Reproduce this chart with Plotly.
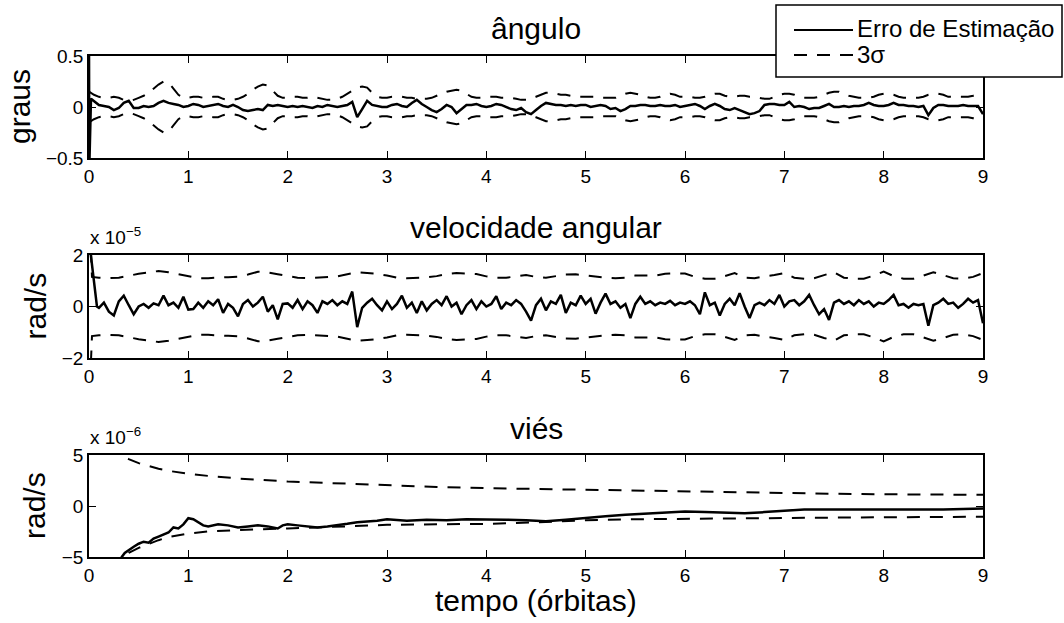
import numpy as np
import plotly.graph_objects as go

# ---------------- data ----------------
orbit_ticks = [0, 1, 2, 3, 4, 5, 6, 7, 8, 9]

# panel 1: angle (degrees); error sampled every 0.05 orbit
ang_err_start_t = [0.0, 0.003, 0.02]
ang_err_start = [0.6, -0.6, 0.08]
ang_err = [
    0.06, 0.02, 0.01, 0.00, -0.03, -0.01, 0.04, 0.06, -0.01, -0.01, 0.01, 0.00, 0.01, 0.04, 0.06, 0.04, 0.03, 0.02, 0.00,
    0.01, 0.03, 0.02, 0.00, 0.01, 0.02, 0.03, 0.01, 0.00, 0.02, 0.00, -0.03, -0.04, -0.03, -0.02, -0.03, 0.02, 0.01, 0.02, 0.01,
    0.00, 0.01, 0.00, 0.01, 0.00, -0.01, 0.01, 0.00, 0.02, 0.01, 0.00, 0.01, 0.02, 0.05, -0.10, -0.02, 0.06, 0.02, 0.01, 0.00,
    0.00, 0.02, 0.03, 0.01, 0.00, 0.04, 0.07, 0.03, 0.00, -0.03, -0.05, -0.02, 0.02, 0.00, -0.06, -0.02, 0.02, 0.02, 0.03, 0.01,
    0.00, 0.01, 0.03, 0.02, 0.00, -0.02, -0.03, -0.01, -0.05, -0.07, -0.03, 0.01, 0.04, 0.03, 0.02, 0.02, 0.01, 0.02, 0.01, 0.02,
    0.02, 0.00, 0.01, 0.02, 0.01, -0.02, -0.01, -0.04, -0.02, 0.01, 0.01, 0.02, 0.02, 0.01, 0.01, 0.02, 0.01, 0.01, 0.02, 0.00,
    0.01, 0.02, 0.03, 0.01, -0.02, 0.01, 0.03, 0.01, -0.02, -0.03, -0.01, -0.03, -0.05, -0.07, -0.06, -0.04, 0.02, 0.03, 0.03, 0.02,
    0.02, 0.05, 0.00, 0.01, 0.00, -0.02, -0.01, -0.01, 0.01, 0.03, 0.00, 0.00, 0.01, 0.00, 0.01, 0.01, 0.02, 0.04, 0.02, 0.01,
    0.01, 0.02, 0.04, 0.02, 0.02, 0.01, 0.01, 0.00, 0.01, -0.08, -0.01, 0.02, 0.02, 0.01, 0.01, 0.01, 0.02, 0.01, 0.01, 0.01,
    -0.07,
]
# 3-sigma bound of the angle, every 0.05 orbit from 0
ang_sig = [
    0.15, 0.12, 0.10, 0.09, 0.09, 0.10, 0.09, 0.07, 0.06, 0.07, 0.09, 0.11, 0.14, 0.18, 0.22, 0.25, 0.24, 0.18, 0.12, 0.09,
    0.09, 0.10, 0.10, 0.09, 0.09, 0.10, 0.10, 0.08, 0.07, 0.07, 0.08, 0.10, 0.13, 0.17, 0.20, 0.22, 0.21, 0.16, 0.11, 0.09,
    0.09, 0.10, 0.10, 0.09, 0.09, 0.10, 0.09, 0.08, 0.07, 0.07, 0.08, 0.10, 0.13, 0.16, 0.19, 0.20, 0.19, 0.14, 0.10, 0.09,
    0.09, 0.10, 0.10, 0.10, 0.09, 0.09, 0.08, 0.08, 0.08, 0.09, 0.11, 0.13, 0.15, 0.16, 0.17, 0.16, 0.13, 0.10, 0.09, 0.09,
    0.10, 0.10, 0.10, 0.09, 0.09, 0.09, 0.08, 0.07, 0.07, 0.08, 0.10, 0.12, 0.14, 0.14, 0.13, 0.12, 0.12, 0.11, 0.10, 0.10,
    0.10, 0.10, 0.10, 0.09, 0.09, 0.09, 0.09, 0.11, 0.13, 0.14, 0.13, 0.12, 0.10, 0.09, 0.09, 0.10, 0.12, 0.13, 0.12, 0.10,
    0.10, 0.10, 0.09, 0.09, 0.10, 0.12, 0.13, 0.13, 0.11, 0.10, 0.10, 0.11, 0.11, 0.10, 0.10, 0.09, 0.08, 0.08, 0.10, 0.12,
    0.13, 0.13, 0.12, 0.10, 0.09, 0.09, 0.09, 0.10, 0.12, 0.14, 0.15, 0.15, 0.13, 0.11, 0.10, 0.09, 0.09, 0.09, 0.10, 0.12,
    0.13, 0.13, 0.12, 0.10, 0.09, 0.09, 0.09, 0.09, 0.10, 0.12, 0.13, 0.13, 0.12, 0.10, 0.10, 0.10, 0.10, 0.10, 0.11, 0.13,
    0.13,
]

# panel 2: angular velocity (x 1e-5 rad/s); error every 0.05 orbit from 0.10
vel_err_start_t = [0.0, 0.02, 0.08]
vel_err_start = [2.6, 1.9, 0.0]
vel_err = [
    -0.05, 0.15, -0.20, -0.35, 0.20, 0.42, 0.05, -0.30, 0.00, 0.10, -0.05, 0.12, 0.05, 0.42, 0.05, 0.15, -0.05, 0.38,
    -0.12, -0.10, 0.15, -0.05, 0.20, 0.05, 0.28, -0.25, 0.10, -0.05, -0.38, 0.10, 0.25, 0.00, 0.15, 0.38, -0.20, 0.05, -0.50, 0.10,
    0.12, -0.05, 0.25, -0.10, 0.20, 0.05, -0.25, 0.20, 0.10, 0.25, 0.05, 0.20, 0.10, 0.58, -0.80, -0.05, 0.15, 0.30, 0.05, -0.15,
    0.20, -0.10, 0.10, 0.42, -0.05, 0.15, -0.25, 0.20, -0.15, 0.10, 0.25, 0.05, 0.40, 0.00, 0.15, -0.30, 0.05, 0.25, -0.10, 0.20,
    0.00, 0.10, 0.40, -0.10, 0.15, 0.05, 0.25, 0.10, -0.20, -0.55, 0.05, 0.30, -0.15, 0.20, 0.10, 0.45, -0.25, 0.15, 0.05, 0.42,
    0.10, 0.30, -0.28, 0.15, 0.50, 0.10, 0.20, -0.05, 0.10, -0.45, 0.10, 0.38, 0.10, 0.20, 0.05, 0.15, 0.10, 0.22, 0.05, 0.15,
    0.10, 0.20, 0.05, -0.30, 0.55, 0.05, 0.15, -0.35, 0.10, 0.30, 0.05, 0.52, 0.00, -0.45, 0.05, 0.15, 0.05, 0.25, 0.10, 0.45,
    0.00, 0.20, 0.25, 0.05, 0.20, 0.45, 0.05, -0.30, -0.10, -0.52, 0.15, 0.25, 0.10, 0.20, 0.05, 0.25, 0.10, 0.20, 0.00, 0.15,
    0.10, 0.25, 0.45, 0.05, 0.10, -0.05, 0.10, 0.05, 0.10, -0.75, 0.05, 0.15, 0.30, 0.10, 0.15, -0.05, 0.10, 0.30, 0.15, 0.25,
    -0.65,
]
# 3-sigma of angular velocity every 0.1 orbit from 0.1
vel_sig_start_t = [0.0, 0.03]
vel_sig_start = [4.0, 1.15]
vel_sig = [
    1.12, 1.10, 1.12, 1.20, 1.27, 1.32, 1.38, 1.33, 1.25, 1.17,
    1.10, 1.10, 1.13, 1.14, 1.16, 1.24, 1.35, 1.32, 1.25, 1.18,
    1.12, 1.10, 1.12, 1.15, 1.17, 1.25, 1.33, 1.30, 1.27, 1.20,
    1.12, 1.10, 1.12, 1.13, 1.18, 1.26, 1.30, 1.28, 1.26, 1.17,
    1.12, 1.12, 1.16, 1.22, 1.15, 1.12, 1.18, 1.24, 1.25, 1.20,
    1.15, 1.12, 1.10, 1.12, 1.20, 1.20, 1.20, 1.27, 1.29, 1.28,
    1.15, 1.08, 1.08, 1.18, 1.30, 1.12, 1.10, 1.17, 1.22, 1.30,
    1.12, 1.08, 1.10, 1.22, 1.33, 1.12, 1.08, 1.08, 1.20, 1.36,
    1.18, 1.08, 1.08, 1.20, 1.33, 1.22, 1.10, 1.08, 1.15, 1.30,
]

# panel 3: bias (x 1e-6 rad/s)
bias_err_t = [0.30, 0.33, 0.36, 0.40, 0.45, 0.50, 0.55, 0.60, 0.65, 0.70, 0.75, 0.80, 0.85, 0.90, 0.95,
              1.00, 1.05, 1.10, 1.15, 1.20, 1.30, 1.40, 1.50, 1.60, 1.70, 1.80, 1.90, 1.95, 2.00, 2.10,
              2.20, 2.30, 2.40, 2.50, 2.60, 2.70, 2.80, 2.90, 3.00, 3.20, 3.40, 3.60, 3.80, 4.00, 4.20,
              4.40, 4.60, 4.80, 5.00, 5.20, 5.40, 5.60, 5.80, 6.00, 6.20, 6.40, 6.60, 6.80, 7.00, 7.20,
              7.40, 7.60, 7.80, 8.00, 8.20, 8.40, 8.60, 8.80, 9.00]
bias_err = [-5.6, -5.0, -4.6, -4.3, -4.0, -3.7, -3.5, -3.6, -3.2, -3.0, -2.8, -2.6, -2.1, -2.2, -1.8,
            -1.2, -1.3, -1.6, -1.9, -2.0, -1.8, -1.9, -2.1, -2.0, -1.9, -2.0, -2.2, -1.9, -1.8, -1.9,
            -2.0, -2.1, -2.0, -1.9, -1.75, -1.6, -1.55, -1.45, -1.3, -1.45, -1.35, -1.4, -1.3, -1.3, -1.35,
            -1.4, -1.5, -1.35, -1.15, -1.0, -0.85, -0.75, -0.65, -0.55, -0.6, -0.65, -0.7, -0.6, -0.45, -0.35,
            -0.35, -0.35, -0.4, -0.4, -0.38, -0.35, -0.35, -0.3, -0.25]
bias_sig_t = [0.1, 0.2, 0.3, 0.4, 0.5, 0.6, 0.7, 0.8, 1.0, 1.2, 1.5, 2.0, 2.5, 3.0, 3.5,
              4.0, 4.5, 5.0, 5.5, 6.0, 6.5, 7.0, 7.5, 8.0, 8.5, 9.0]
bias_sig_up = [8.0, 6.2, 5.2, 4.6, 4.2, 3.9, 3.65, 3.45, 3.15, 2.95, 2.7, 2.4, 2.2, 2.0, 1.87,
               1.75, 1.67, 1.58, 1.47, 1.38, 1.3, 1.25, 1.2, 1.15, 1.12, 1.1]
bias_sig_lo = [-8.0, -6.5, -5.4, -4.6, -4.1, -3.7, -3.35, -3.05, -2.7, -2.5, -2.35, -2.2, -2.0, -1.85, -1.8,
               -1.75, -1.6, -1.4, -1.3, -1.25, -1.2, -1.15, -1.12, -1.1, -1.08, -1.05]

titles = ["ângulo", "velocidade angular", "viés"]
ylabels = ["graus", "rad/s", "rad/s"]
y_ranges = [[-0.5, 0.5], [-2, 2], [-5, 5]]
y_ticks = [[-0.5, 0, 0.5], [-2, 0, 2], [-5, 0, 5]]
exponents = [None, "−5", "−6"]
xlabel = "tempo (órbitas)"
legend_labels = ["Erro de Estimação", "3σ"]

assert len(ang_err) == 180 and len(ang_sig) == 181
assert len(vel_err) == 179 and len(vel_sig) == 90
assert len(bias_err_t) == len(bias_err) and len(bias_sig_t) == len(bias_sig_up) == len(bias_sig_lo)

# ---------------- figure ----------------
W, H = 1064, 623
FONT = "Liberation Sans"
DASH = "13px,10px"


def fx(p):
    return p / W


def fy(p):
    return 1 - p / H


X_LEFT, X_RIGHT = 89, 983
panels = [(56, 158), (255, 358), (455, 557)]

t_ang = np.round(np.arange(1, 181) * 0.05, 2)
t_sig_ang = np.round(np.arange(0, 181) * 0.05, 2)
t_vel = np.round(np.arange(2, 181) * 0.05, 2)
t_sig_vel = np.round(np.arange(1, 91) * 0.1, 2)

ang_sig_a = np.array(ang_sig)
vel_sig_full = np.array(vel_sig_start + vel_sig)
t_vel_sig_full = np.concatenate([vel_sig_start_t, t_sig_vel])

series = [
    # (panel, x, y, dashed)
    (1, t_sig_ang, ang_sig_a, True),
    (1, t_sig_ang, -ang_sig_a, True),
    (1, np.concatenate([ang_err_start_t, t_ang]), np.array(ang_err_start + ang_err), False),
    (2, t_vel_sig_full, vel_sig_full, True),
    (2, t_vel_sig_full, -vel_sig_full, True),
    (2, np.concatenate([vel_err_start_t, t_vel]), np.array(vel_err_start + vel_err), False),
    (3, bias_sig_t, bias_sig_up, True),
    (3, bias_sig_t, bias_sig_lo, True),
    (3, bias_err_t, bias_err, False),
]

fig = go.Figure()
for pnl, xs, ys, dashed in series:
    sfx = "" if pnl == 1 else str(pnl)
    fig.add_trace(go.Scatter(
        x=list(xs), y=list(ys), mode="lines", showlegend=False, hoverinfo="skip",
        xaxis="x" + sfx, yaxis="y" + sfx,
        line=dict(color="black", width=2 if dashed else 2.5, dash=DASH if dashed else "solid"),
    ))

layout = dict(
    template="none",
    width=W, height=H, autosize=False, margin=dict(l=0, r=0, t=0, b=0, pad=0),
    paper_bgcolor="white", plot_bgcolor="white", showlegend=False,
    font=dict(family=FONT, color="black"),
)
annotations = []
shapes = []
TICK_SIZE = 19
BIG = 30
for i, (top, bot) in enumerate(panels):
    sfx = "" if i == 0 else str(i + 1)
    common = dict(
        ticks="inside", ticklen=7, tickwidth=1.2, tickcolor="black",
        showline=True, linecolor="black", linewidth=1.5, mirror="allticks",
        showgrid=False, zeroline=False, automargin=False,
        tickfont=dict(family=FONT, size=TICK_SIZE, color="black"),
    )
    layout["xaxis" + sfx] = dict(
        domain=[fx(X_LEFT), fx(X_RIGHT)], anchor="y" + sfx, range=[0, 9],
        tickvals=orbit_ticks, **common,
    )
    layout["yaxis" + sfx] = dict(
        domain=[fy(bot), fy(top)], anchor="x" + sfx, range=y_ranges[i],
        tickvals=y_ticks[i], **common,
    )
    # title
    annotations.append(dict(
        text=titles[i], x=fx((X_LEFT + X_RIGHT) / 2), y=fy(top - 27), xref="paper", yref="paper",
        xanchor="center", yanchor="middle", showarrow=False, font=dict(family=FONT, size=BIG, color="black"),
    ))
    # y label
    annotations.append(dict(
        text=ylabels[i], x=fx(20 if i == 0 else 35), y=fy((top + bot) / 2), xref="paper", yref="paper",
        xanchor="center", yanchor="middle", textangle=-90, showarrow=False,
        font=dict(family=FONT, size=BIG, color="black"),
    ))
    if exponents[i]:
        annotations.append(dict(
            text="x 10<sup>" + exponents[i] + "</sup>", x=fx(88), y=fy(top - 5), xref="paper", yref="paper",
            xanchor="left", yanchor="bottom", showarrow=False, font=dict(family=FONT, size=TICK_SIZE, color="black"),
        ))

annotations.append(dict(
    text=xlabel, x=fx((X_LEFT + X_RIGHT) / 2), y=fy(600), xref="paper", yref="paper",
    xanchor="center", yanchor="middle", showarrow=False, font=dict(family=FONT, size=BIG, color="black"),
))

# legend drawn as a box with sample lines
LX0, LX1, LY0, LY1 = 776, 1062, 5, 77
shapes.append(dict(type="rect", xref="paper", yref="paper", x0=fx(LX0), x1=fx(LX1), y0=fy(LY1), y1=fy(LY0),
                   line=dict(color="black", width=1.5), fillcolor="white", layer="above"))
for k, (lab, yy) in enumerate(zip(legend_labels, [30, 55])):
    shapes.append(dict(type="line", xref="paper", yref="paper", x0=fx(794), x1=fx(853), y0=fy(yy), y1=fy(yy),
                       line=dict(color="black", width=2, dash="solid" if k == 0 else DASH), layer="above"))
    annotations.append(dict(
        text=lab, x=fx(855), y=fy(yy - 1), xref="paper", yref="paper", xanchor="left", yanchor="middle",
        showarrow=False, font=dict(family=FONT, size=24, color="black"),
    ))

layout["annotations"] = annotations
layout["shapes"] = shapes
fig.update_layout(**layout)
fig.write_html(
    "out.html",
    config={"displayModeBar": False},
    post_script="document.body.style.margin='0';document.body.style.overflow='hidden';",
)
